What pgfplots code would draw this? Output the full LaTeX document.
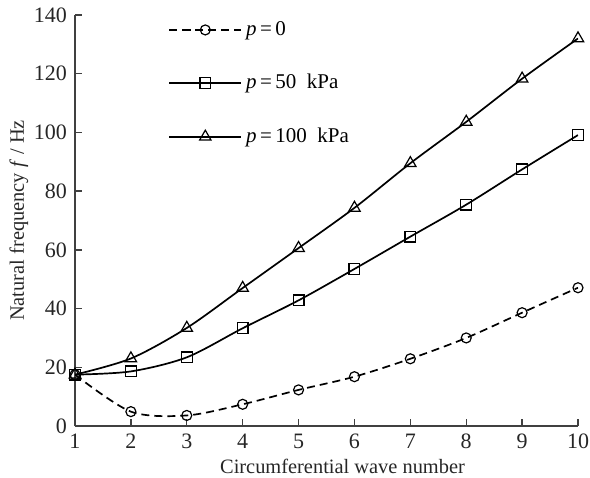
\documentclass[border=0pt]{standalone}
\usepackage{pgfplots}
\pgfplotsset{compat=1.18}
\usepackage{fontspec}
\setmainfont{Liberation Serif}
\definecolor{axgray}{HTML}{404040}
\begin{document}
\begin{tikzpicture}
\begin{axis}[name=ax,
  scale only axis, width=251.5pt, height=205.5pt,
  xmin=1, xmax=10, ymin=0, ymax=140,
  xtick={1,...,10}, ytick={0,20,...,140},
  axis lines=left, axis line style={axgray, line width=0.7pt, -},
  tick style={axgray, line width=0.7pt}, tick align=inside, major tick length=3.5pt,
  /pgf/number format/assume math mode=true,
  tick label style={font=\fontsize{11}{13}\selectfont, text=black!85},
  xticklabel style={yshift=-0.5pt},
  yticklabel style={xshift=-0.5pt},
  xlabel={Circumferential wave number},
  ylabel={Natural frequency \textit{f} / Hz},
  label style={font=\fontsize{10.2}{12}\selectfont, text=black!85},
  xlabel style={yshift=2pt, xshift=8pt},
  ylabel style={yshift=-4pt},
  legend style={draw=none, fill=none, at={(0.185,0.995)}, anchor=north west,
    font=\fontsize{10.5}{12}\selectfont, row sep=14pt, inner sep=0pt,
    legend cell align=left},
  legend image code/.code={\draw[mark repeat=2, mark phase=2, #1] plot coordinates {(0pt,0pt) (18pt,0pt) (36pt,0pt)};},
  every axis plot/.append style={black, line width=0.85pt, mark options={solid, fill=white, line width=0.6pt}},
]
\addplot[smooth, dashed, dash pattern=on 4pt off 2.5pt, mark=o, mark size=2.5pt] coordinates {
(1,17.5) (2,4.9) (3,3.6) (4,7.4) (5,12.3) (6,16.8) (7,22.9) (8,30.0) (9,38.6) (10,47.1)};
\addlegendentry{\textit{p}\,=\,0}
\addplot[smooth, mark=square, mark size=2.7pt] coordinates {
(1,17.5) (2,18.6) (3,23.4) (4,33.3) (5,42.8) (6,53.5) (7,64.5) (8,75.4) (9,87.4) (10,99.1)};
\addlegendentry{\textit{p}\,=\,50~~kPa}
\addplot[smooth, mark=triangle, mark size=3.3pt] coordinates {
(1,17.5) (2,23.0) (3,33.4) (4,47.0) (5,60.6) (6,74.3) (7,89.5) (8,103.6) (9,118.3) (10,132.0)};
\addlegendentry{\textit{p}\,=\,100~~kPa}
\end{axis}
\pgfresetboundingbox
\path ([shift={(-37.5pt,-25.5pt)}]ax.south west) rectangle ([shift={(6pt,7.5pt)}]ax.north east);
\end{tikzpicture}
\end{document}
